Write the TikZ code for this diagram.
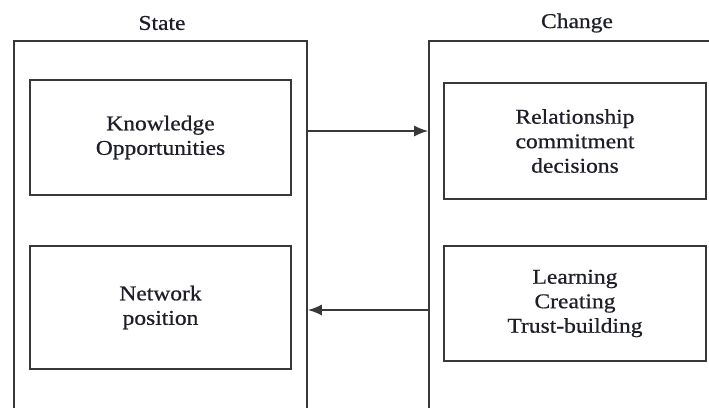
\documentclass[tikz,border=0pt]{standalone}
\usepackage{fontspec}
\setmainfont{Liberation Serif}[FakeStretch=1.12, FakeBold=0.6]
\usetikzlibrary{arrows.meta}
\definecolor{edge}{HTML}{383838}
\definecolor{ink}{HTML}{1E1E2A}
\tikzset{
  x=1pt, y=-1pt,
  frame/.style={draw=edge, line width=1.8pt, rectangle, inner sep=0pt},
  inbox/.style={frame, align=center, text=ink, font=\fontsize{21}{24.5}\selectfont},
  title/.style={text=ink, font=\fontsize{21}{24}\selectfont, inner sep=0pt},
  flow/.style={draw=edge, line width=1.5pt, -{Latex[length=14pt,width=11pt]}}
}
\begin{document}
\begin{tikzpicture}
\clip (0,0) rectangle (709,407);
\fill[white] (0,0) rectangle (709,407);

% column titles
\node[title] (tS) at (162,23) {State};
\node[title] (tC) at (577,23) {Change};

% outer frames, open at the bottom edge
\node[frame, minimum width=293pt, minimum height=400pt] (S) at (160.5,241) {};
\node[frame, minimum width=300pt, minimum height=400pt] (C) at (579,241) {};

% inner boxes
\node[inbox, minimum width=261pt, minimum height=115pt] (K) at (160.5,137.5) {Knowledge\\Opportunities};
\node[inbox, minimum width=261pt, minimum height=123pt] (N) at (160.5,307.5) {Network\\position};
\node[inbox, minimum width=262pt, minimum height=116pt] (R) at (575,141) {Relationship\\commitment\\decisions};
\node[inbox, minimum width=262pt, minimum height=115pt] (L) at (575,303.5) {Learning\\Creating\\Trust-building};

% arrows between the two frames
\coordinate (a1) at (0,131);
\coordinate (a2) at (0,310);
\draw[flow] (S.east |- a1) -- (C.west |- a1);
\draw[flow] (C.west |- a2) -- (S.east |- a2);
\end{tikzpicture}
\end{document}
